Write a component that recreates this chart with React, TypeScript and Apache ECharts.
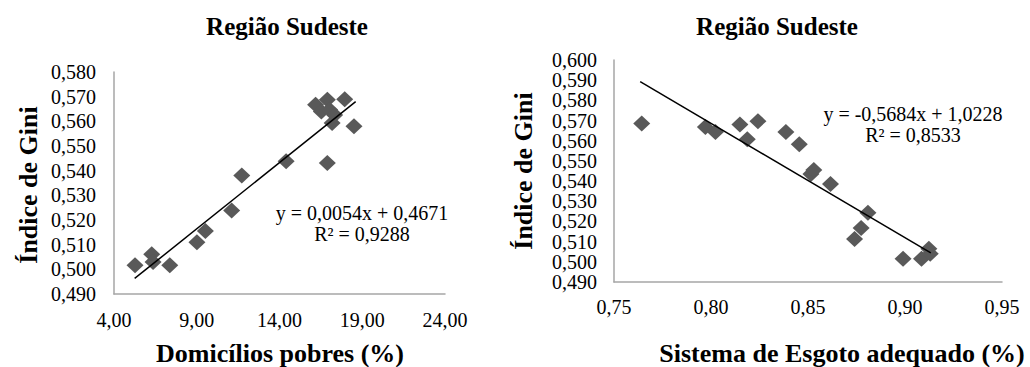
import React, { useEffect, useRef } from "react";
import * as echarts from "echarts";

const chartTitles = ["Região Sudeste", "Região Sudeste"];
const yAxisName = "Índice de Gini";
const xAxisNames = ["Domicílios pobres (%)", "Sistema de Esgoto adequado (%)"];

// Left chart: Domicílios pobres (%) vs Índice de Gini
const leftPoints: [number, number][] = [
  [5.27, 0.5017], [6.28, 0.5061], [6.36, 0.503], [7.37, 0.5017],
  [9.01, 0.511], [9.52, 0.5155], [11.11, 0.5239], [11.72, 0.538],
  [14.4, 0.5438], [16.89, 0.5431], [16.18, 0.5667], [16.89, 0.5687],
  [17.94, 0.569], [18.5, 0.558], [17.18, 0.5593], [16.53, 0.564],
  [17.03, 0.5647], [17.33, 0.5626],
];
const leftTrend: [number, number][] = [[5.25, 0.4963], [18.6, 0.568]];
const leftXTicks = [4, 9, 14, 19, 24];
const leftYTicks = [0.49, 0.5, 0.51, 0.52, 0.53, 0.54, 0.55, 0.56, 0.57, 0.58];
const leftEquation = ["y = 0,0054x + 0,4671", "R² = 0,9288"];

// Right chart: Sistema de Esgoto adequado (%) vs Índice de Gini
const rightPoints: [number, number][] = [
  [0.7643, 0.5685], [0.7971, 0.5668], [0.8023, 0.5643], [0.8149, 0.568],
  [0.8187, 0.5607], [0.8242, 0.5697], [0.8386, 0.5643], [0.8455, 0.5582],
  [0.8515, 0.5435], [0.853, 0.5455], [0.8616, 0.5385], [0.8809, 0.5243],
  [0.8774, 0.5168], [0.874, 0.5113], [0.899, 0.5015], [0.9085, 0.5015],
  [0.9123, 0.5065], [0.913, 0.504],
];
const rightTrend: [number, number][] = [[0.7635, 0.5893], [0.9133, 0.5044]];
const rightXTicks = [0.75, 0.8, 0.85, 0.9, 0.95];
const rightYTicks = [0.49, 0.5, 0.51, 0.52, 0.53, 0.54, 0.55, 0.56, 0.57, 0.58, 0.59, 0.6];
const rightEquation = ["y = -0,5684x + 1,0228", "R² = 0,8533"];

const FONT = "Liberation Serif";
const AXIS_GRAY = "#a6a6a6";
const MARK = "#595959";

const fmt = (d: number) => (v: number) => v.toFixed(d).replace(".", ",");

function axis(min: number, max: number, ticks: number[], digits: number, gridIndex: number, margin: number) {
  return {
    type: "value",
    gridIndex,
    min,
    max,
    axisLine: { show: true, lineStyle: { color: AXIS_GRAY, width: 1.5 } },
    axisTick: { show: false },
    splitLine: { show: false },
    axisLabel: {
      customValues: ticks,
      formatter: fmt(digits),
      fontFamily: FONT,
      fontSize: 20,
      color: "#000",
      margin,
    },
  };
}

const textStyle = (size: number, bold: boolean) => ({
  fontFamily: FONT,
  fontSize: size,
  fontWeight: bold ? "bold" : "normal",
  fill: "#000",
});

export default function App() {
  const ref = useRef<HTMLDivElement>(null);
  useEffect(() => {
    if (!ref.current) return;
    const chart = echarts.init(ref.current, undefined, { renderer: "svg" });
    const scatterStyle = {
      type: "scatter",
      symbol: "diamond",
      symbolSize: [17, 16],
      itemStyle: { color: MARK, opacity: 1 },
    };
    const lineStyle = {
      type: "line",
      symbol: "none",
      lineStyle: { color: "#000", width: 1.5 },
    };
    chart.setOption({
      animation: false,
      backgroundColor: "#fff",
      textStyle: { fontFamily: FONT },
      title: [
        {
          text: chartTitles[0],
          left: 282,
          top: 9,
          textAlign: "center",
          textStyle: { fontFamily: FONT, fontSize: 25, fontWeight: "bold", color: "#000" },
        },
        {
          text: chartTitles[1],
          left: 772,
          top: 9,
          textAlign: "center",
          textStyle: { fontFamily: FONT, fontSize: 25, fontWeight: "bold", color: "#000" },
        },
      ],
      grid: [
        { left: 114, top: 72, width: 331, height: 222 },
        { left: 614, top: 60, width: 388, height: 222 },
      ],
      xAxis: [
        { ...axis(4, 24, leftXTicks, 2, 0, 16) },
        { ...axis(0.75, 0.95, rightXTicks, 2, 1, 15) },
      ],
      yAxis: [
        { ...axis(0.49, 0.58, leftYTicks, 3, 0, 18) },
        { ...axis(0.49, 0.6, rightYTicks, 3, 1, 17) },
      ],
      series: [
        { ...scatterStyle, xAxisIndex: 0, yAxisIndex: 0, data: leftPoints },
        { ...lineStyle, xAxisIndex: 0, yAxisIndex: 0, data: leftTrend },
        { ...scatterStyle, xAxisIndex: 1, yAxisIndex: 1, data: rightPoints },
        { ...lineStyle, xAxisIndex: 1, yAxisIndex: 1, data: rightTrend },
      ],
      graphic: [
        {
          type: "text",
          x: 362,
          y: 223,
          style: { text: leftEquation.join("\n"), ...textStyle(20, false), align: "center", verticalAlign: "middle", lineHeight: 21 },
        },
        {
          type: "text",
          x: 913,
          y: 124,
          style: { text: rightEquation.join("\n"), ...textStyle(20, false), align: "center", verticalAlign: "middle", lineHeight: 21 },
        },
        {
          type: "text",
          x: 28,
          y: 185,
          rotation: Math.PI / 2,
          style: { text: yAxisName, ...textStyle(26, true), align: "center", verticalAlign: "middle" },
        },
        {
          type: "text",
          x: 523,
          y: 171,
          rotation: Math.PI / 2,
          style: { text: yAxisName, ...textStyle(26, true), align: "center", verticalAlign: "middle" },
        },
        {
          type: "text",
          x: 280,
          y: 366,
          style: { text: xAxisNames[0], ...textStyle(26, true), align: "center", verticalAlign: "bottom" },
        },
        {
          type: "text",
          x: 842,
          y: 366,
          style: { text: xAxisNames[1], ...textStyle(26, true), align: "center", verticalAlign: "bottom" },
        },
      ],
    });
    return () => chart.dispose();
  }, []);
  return (
    <div
      ref={ref}
      style={{ position: "fixed", left: 0, top: 0, width: 1030, height: 367 }}
    />
  );
}
